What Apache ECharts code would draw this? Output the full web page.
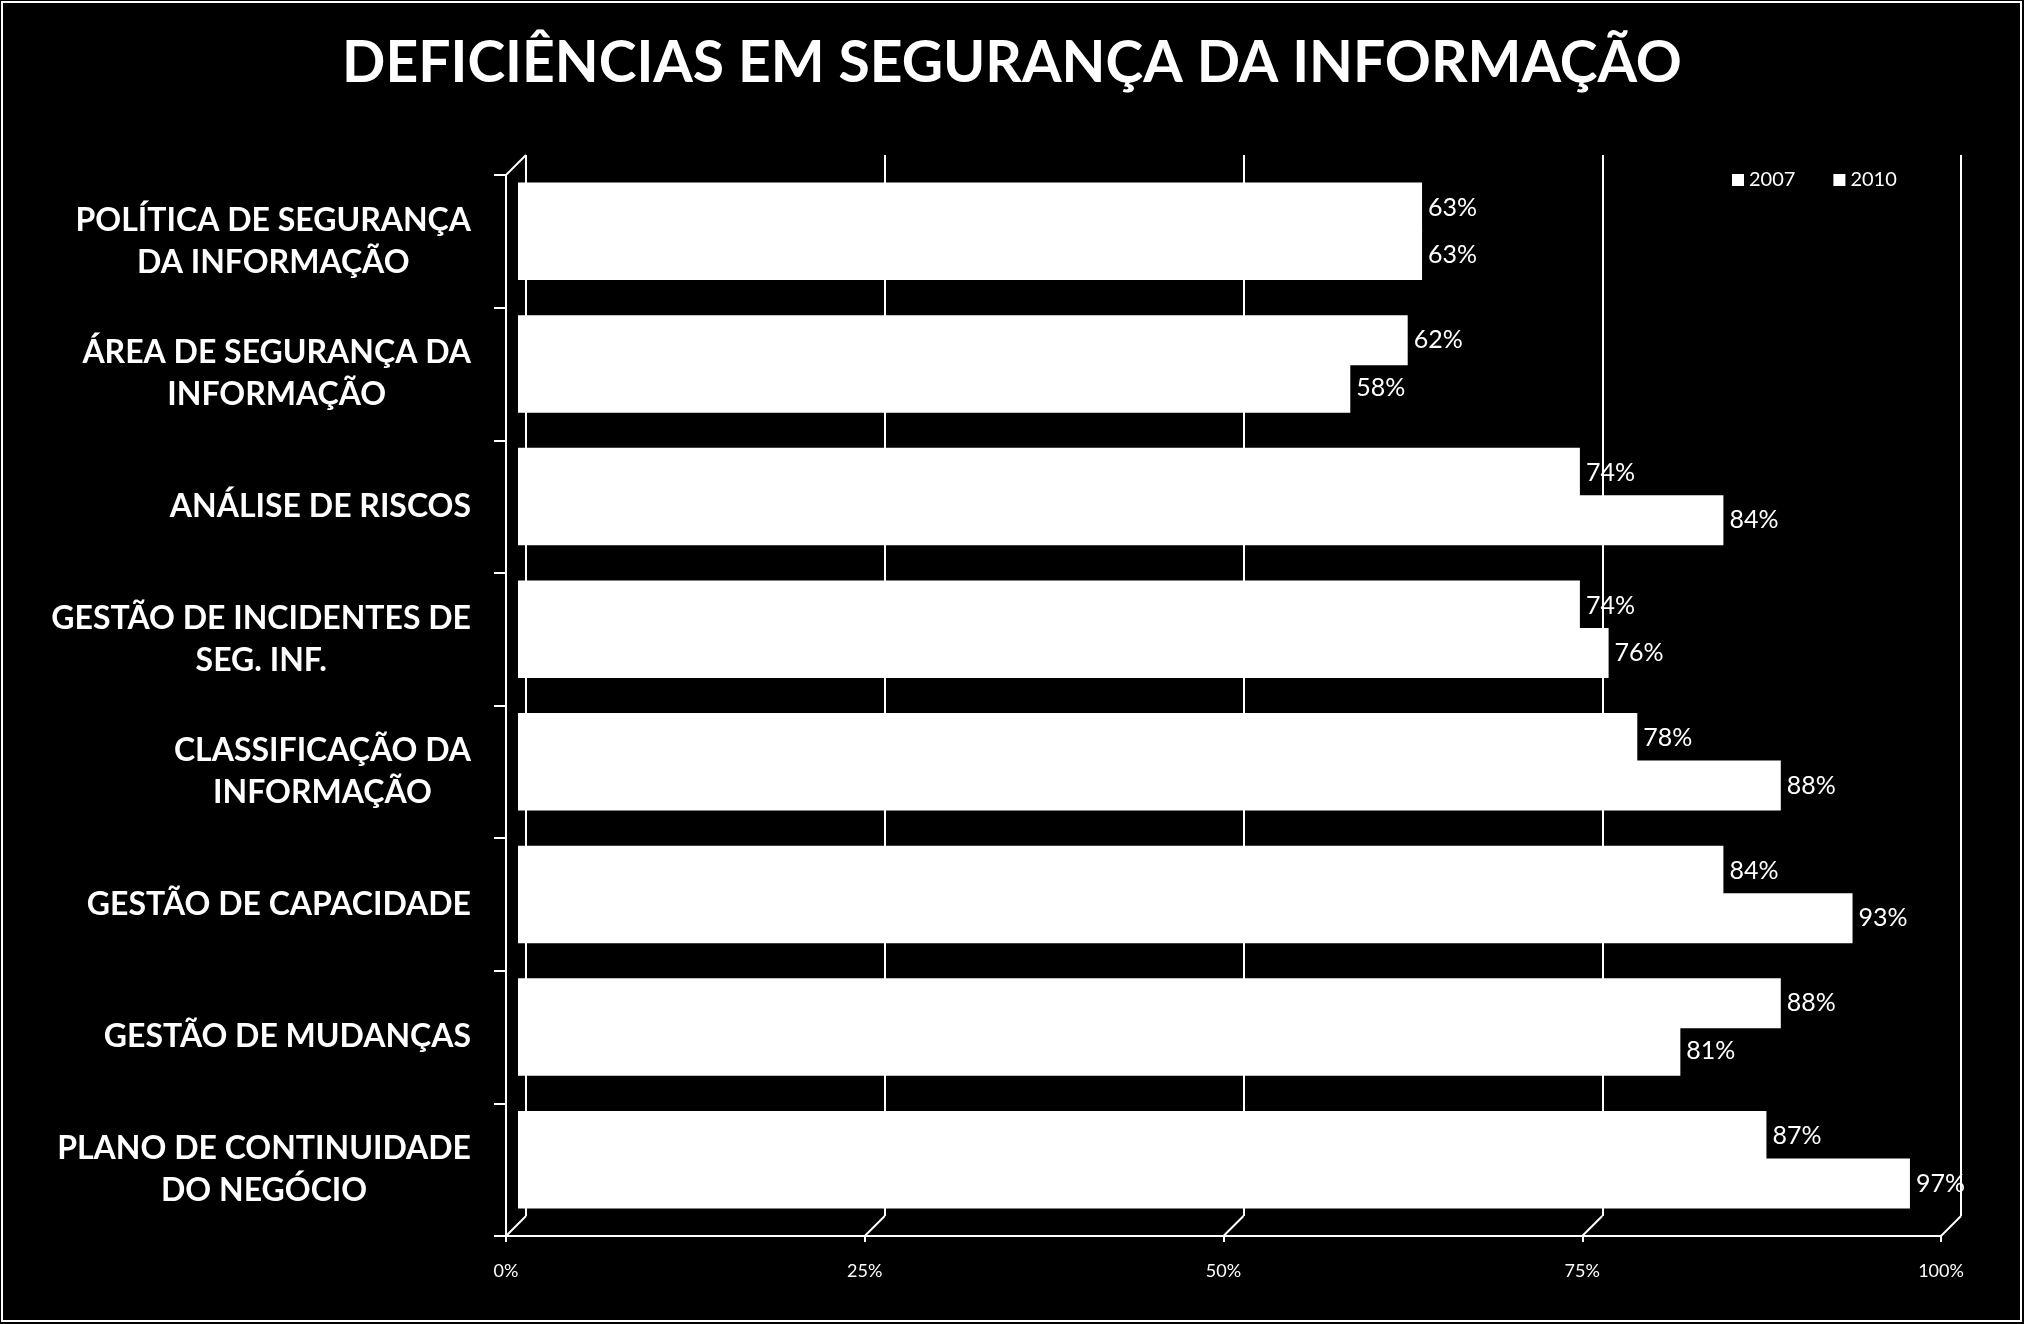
<!DOCTYPE html>
<html><head><meta charset="utf-8">
<script src="https://cdn.jsdelivr.net/npm/echarts@6/dist/echarts.min.js"></script>
<style>html,body{margin:0;padding:0;background:#000;}#c{width:2024px;height:1324px;}</style>
</head><body><div id="c"></div>
<script>
const categories = [
  "POLÍTICA DE SEGURANÇA\nDA INFORMAÇÃO",
  "ÁREA DE SEGURANÇA DA\nINFORMAÇÃO",
  "ANÁLISE DE RISCOS",
  "GESTÃO DE INCIDENTES DE\nSEG. INF.",
  "CLASSIFICAÇÃO DA\nINFORMAÇÃO",
  "GESTÃO DE CAPACIDADE",
  "GESTÃO DE MUDANÇAS",
  "PLANO DE CONTINUIDADE\nDO NEGÓCIO"
];
const values2007 = [63, 62, 74, 74, 78, 84, 88, 87];
const values2010 = [63, 58, 84, 76, 88, 93, 81, 97];
const xTicks = [0, 25, 50, 75, 100];

const W = 1435, H = 1061;
const front = {left: 506, top: 175};
const back = {left: 526, top: 155};
const mid = {left: 518, top: 165};
const FONT = 'Lato, "Open Sans", sans-serif';

const chart = echarts.init(document.getElementById('c'));

const graphics = [];
graphics.push({type:'rect', shape:{x:2, y:2, width:2019, height:1319}, style:{fill:null, stroke:'#fff', lineWidth:2}, silent:true});
for (let k = 0; k < xTicks.length; k++) {
  const fx = front.left + W * xTicks[k] / 100;
  const bx = back.left + W * xTicks[k] / 100;
  graphics.push({type:'line', shape:{x1:fx, y1:front.top + H, x2:bx, y2:back.top + H}, style:{stroke:'#fff', lineWidth:2}, silent:true});
}
graphics.push({type:'line', shape:{x1:front.left, y1:front.top, x2:back.left, y2:back.top}, style:{stroke:'#fff', lineWidth:2}, silent:true});

const barLabel = {show:true, position:'right', distance:6, color:'#fff', fontSize:25, fontFamily: FONT, formatter: p => p.value + '%'};

chart.setOption({
  backgroundColor: '#000',
  animation: false,
  title: {
    text: 'DEFICIÊNCIAS EM SEGURANÇA DA INFORMAÇÃO',
    left: 'center', top: 30,
    textStyle: {color:'#fff', fontSize:57, fontWeight:'bold', fontFamily: FONT}
  },
  legend: {
    data: ['2007', '2010'],
    left: 1727, top: 165,
    icon: 'rect', itemWidth: 12, itemHeight: 12, itemGap: 38,
    textStyle: {color:'#fff', fontSize:20, fontFamily: FONT}
  },
  grid: [
    {left: back.left, top: back.top, width: W, height: H},
    {left: front.left, top: front.top, width: W, height: H},
    {left: mid.left, top: mid.top, width: W, height: H}
  ],
  xAxis: [
    {gridIndex:0, type:'value', min:0, max:100, interval:25,
     axisLine:{show:false}, axisTick:{show:false}, axisLabel:{show:false},
     splitLine:{show:true, lineStyle:{color:'#fff', width:2}}},
    {gridIndex:1, type:'value', min:0, max:100, interval:25,
     axisLine:{show:true, lineStyle:{color:'#fff', width:2}},
     axisTick:{show:true, length:6, lineStyle:{color:'#fff', width:2}},
     axisLabel:{show:true, color:'#fff', fontSize:18, fontFamily: FONT, margin:26,
       formatter: v => v + '%'},
     splitLine:{show:false}},
    {gridIndex:2, type:'value', min:0, max:100, show:false}
  ],
  yAxis: [
    {gridIndex:0, type:'category', data:categories, inverse:true, show:false},
    {gridIndex:1, type:'category', data:categories, inverse:true,
     axisLine:{show:true, lineStyle:{color:'#fff', width:2}},
     axisTick:{show:true, length:12, inside:false, lineStyle:{color:'#fff', width:2}},
     axisLabel:{show:true, margin:35, align:'right',
       formatter: v => v.split('\n').map(s => '{a|' + s + '}').join('\n'),
       rich:{a:{color:'#fff', fontSize:32, fontWeight:'bold', fontFamily: FONT, lineHeight:42, align:'center'}}
     },
     splitLine:{show:false}},
    {gridIndex:2, type:'category', data:categories, inverse:true, show:false}
  ],
  series: [
    {name:'2007', type:'bar', xAxisIndex:2, yAxisIndex:2, data: values2007,
     barWidth:50, barGap:'-5%', itemStyle:{color:'#fff'},
     label: barLabel},
    {name:'2010', type:'bar', xAxisIndex:2, yAxisIndex:2, data: values2010,
     barWidth:50, barGap:'-5%', itemStyle:{color:'#fff'},
     label: barLabel}
  ],
  graphic: graphics
});
</script>
</body></html>
